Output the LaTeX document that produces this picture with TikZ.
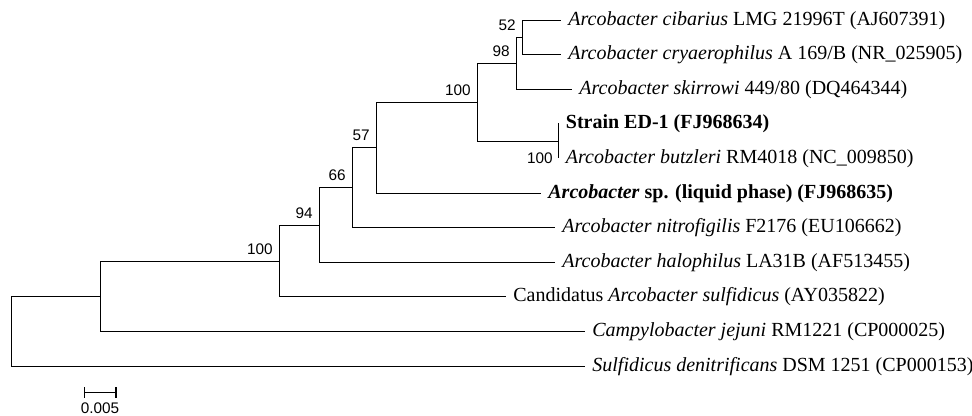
\documentclass[tikz,border=0pt]{standalone}
\usepackage{fontspec}
\setmainfont{Liberation Serif}
\newfontfamily\bootfont{Liberation Sans}
\usetikzlibrary{arrows.meta, positioning}

\begin{document}
\begin{tikzpicture}[x=0.75pt, y=-0.75pt, line width=1.1pt,
    leaf/.style={anchor=west, inner xsep=5pt, inner ysep=0pt,
                 font=\fontsize{15}{18}\selectfont},
    boot/.style={inner sep=0pt, font=\bootfont\fontsize{11.5}{13}\selectfont}]
\useasboundingbox (0,0) rectangle (972,416);
% internal nodes
\coordinate (root)  at (11.5,331.5);
\coordinate (ncamp) at (100.5,296.5);
\coordinate (n100b) at (279.5,261.5);
\coordinate (n94)   at (319.5,225.5);
\coordinate (n66)   at (352.5,187.5);
\coordinate (n57)   at (376.5,147.5);
\coordinate (n100a) at (477.5,102.5);
\coordinate (n98)   at (516.5,63.5);
\coordinate (n52)   at (522.5,37.5);
\coordinate (ned)   at (558.5,141.5);
% leaves
\node[leaf] (cib)   at (561,20.5)  {\textit{Arcobacter cibarius} LMG 21996T (AJ607391)};
\node[leaf] (cry)   at (561,54.5)  {\textit{Arcobacter cryaerophilus} A 169/B (NR\_025905)};
\node[leaf] (ski)   at (572,89.5)  {\textit{Arcobacter skirrowi} 449/80 (DQ464344)};
\node[leaf] (ed1)   at (558.5,123.5) {\textbf{Strain ED-1 (FJ968634)}};
\node[leaf] (butz)  at (558.5,158.5) {\textit{Arcobacter butzleri} RM4018 (NC\_009850)};
\node[leaf] (sp)    at (541,193.5) {\textbf{\textit{Arcobacter} sp. (liquid phase) (FJ968635)}};
\node[leaf] (nitro) at (555,227.5) {\textit{Arcobacter nitrofigilis} F2176 (EU106662)};
\node[leaf] (halo)  at (555,262.5) {\textit{Arcobacter halophilus} LA31B (AF513455)};
\node[leaf] (cand)  at (506,296.5) {Candidatus \textit{Arcobacter sulfidicus} (AY035822)};
\node[leaf] (campy) at (585,331.5) {\textit{Campylobacter jejuni} RM1221 (CP000025)};
\node[leaf] (sulf)  at (585,366.5) {\textit{Sulfidicus denitrificans} DSM 1251 (CP000153)};
% branches
\foreach \p/\c in {root/ncamp, root/sulf.west, ncamp/n100b, ncamp/campy.west,
                   n100b/n94, n100b/cand.west, n94/n66, n94/halo.west,
                   n66/n57, n66/nitro.west, n57/n100a, n57/sp.west,
                   n100a/n98, n100a/ned, n98/n52, n98/ski.west,
                   n52/cib.west, n52/cry.west, ned/ed1.west, ned/butz.west}
    \draw (\p) |- (\c);
% bootstrap values
\node[boot, above left=4.5pt and 4.5pt of n52]   (b52)   {52};
\node[boot, above left=4.5pt and 4.5pt of n98]   (b98)   {98};
\node[boot, above left=4.5pt and 4.5pt of n100a] (b100a) {100};
\node[boot, above left=4.5pt and 4.5pt of n57]   (b57)   {57};
\node[boot, above left=4.5pt and 4.5pt of n66]   (b66)   {66};
\node[boot, above left=4.5pt and 4.5pt of n94]   (b94)   {94};
\node[boot, above left=4.5pt and 4.5pt of n100b] (b100b) {100};
\node[boot, below left=8pt and 3.75pt of ned]    (bed)   {100};
% scale bar
\coordinate (sb1) at (83.5,392.5);
\coordinate (sb2) at (116.5,392.5);
\draw[{Bar[width=8pt]}-{Bar[width=8pt]}] (sb1) -- (sb2);
\node[boot, anchor=north] (sbval) at (100,402) {0.005};
\end{tikzpicture}
\end{document}
